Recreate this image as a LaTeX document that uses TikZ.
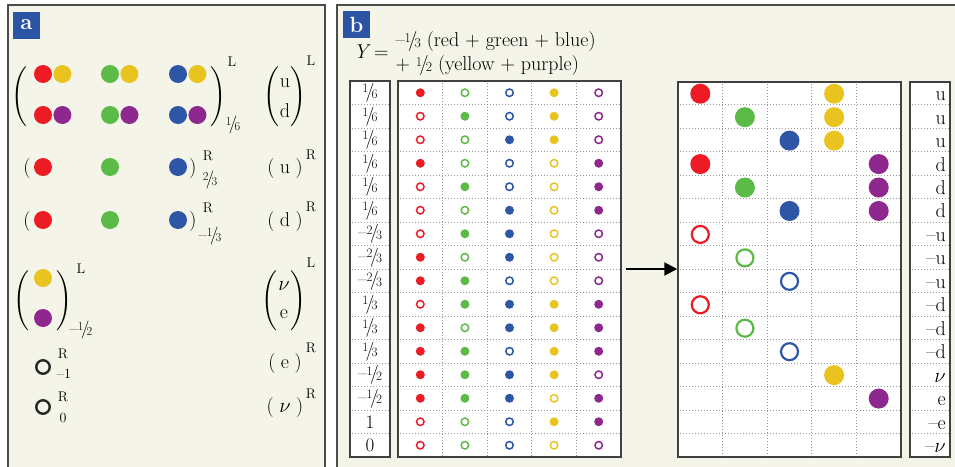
\documentclass[tikz,border=0pt]{standalone}
\usepackage{amsmath,amssymb}
\usepackage{graphicx}
\usepackage{xcolor}
\usepackage{tikz}
\usetikzlibrary{arrows.meta, positioning}

\definecolor{qred}{RGB}{237,28,36}
\definecolor{qgreen}{RGB}{92,186,71}
\definecolor{qblue}{RGB}{46,86,166}
\definecolor{qyellow}{RGB}{233,195,30}
\definecolor{qpurple}{RGB}{142,40,142}
\definecolor{panelbg}{RGB}{245,244,233}
\definecolor{tagblue}{RGB}{44,84,164}
\colorlet{c1}{qred}
\colorlet{c2}{qgreen}
\colorlet{c3}{qblue}
\colorlet{c4}{qyellow}
\colorlet{c5}{qpurple}

\newcommand{\slfrac}[2]{\raisebox{0.55ex}{\scalebox{0.68}{#1}}\kern-0.14em/\kern-0.14em\raisebox{-0.1ex}{\scalebox{0.68}{#2}}}
\newcommand{\openpar}[1]{\ensuremath{\left(\vcenter{\hbox{\rule{0pt}{#1pt}}}\right.}}
\newcommand{\closepar}[1]{\ensuremath{\left.\vcenter{\hbox{\rule{0pt}{#1pt}}}\right)}}

\tikzstyle{panel} = [fill=panelbg]
\tikzstyle{frame} = [draw=black!70, line width=1.5pt]
\tikzstyle{tag} = [rectangle, fill=tagblue, text=white,
minimum size=27pt, inner sep=0pt,
font=\fontsize{22}{22}\selectfont\bfseries]
\tikzstyle{ball} = [circle, inner sep=0pt, minimum size=18pt, fill]
\tikzstyle{ring} = [circle, inner sep=0pt, minimum size=13.5pt,
draw=black!85, line width=2.4pt]
\tikzstyle{idx} = [inner sep=0pt, font=\fontsize{14}{14}\selectfont]
\tikzstyle{idxfrac} = [inner sep=0pt, font=\fontsize{18}{18}\selectfont]
\tikzstyle{charge} = [inner sep=0pt, font=\fontsize{19}{19}\selectfont]
\tikzstyle{table} = [rectangle, draw=black!75, line width=1.5pt,
fill=white, inner sep=0pt]
\tikzstyle{gridline} = [black!40, dotted, line width=1pt]
\tikzstyle{sF} = [circle, inner sep=0pt, minimum size=9pt, fill]
\tikzstyle{sO} = [circle, inner sep=0pt, minimum size=7.5pt, draw, line width=1.5pt]
\tikzstyle{bF} = [circle, inner sep=0pt, minimum size=20pt, fill]
\tikzstyle{bO} = [circle, inner sep=0pt, minimum size=17pt, draw, line width=2.2pt]
\tikzstyle{arrow} = [line width=2pt, -{Triangle[length=13pt, width=13pt]}]

\begin{document}
\begin{tikzpicture}[x=1pt, y=-1pt, font=\fontsize{20}{24}\selectfont]
\useasboundingbox (0,0) rectangle (955,466);

% panel a
\fill[panel] (8,5) rectangle (325,470);
\draw[frame] (8,470) |- (325,5) -- (325,470);
\node[tag] (taga) at (26.5,25) {a};

\foreach \c/\x [count=\k] in {qred/43, qgreen/110, qblue/178} {
  \node[ball, \c] (qL\k) at (\x,74) {};
  \node[ball, qyellow, right=1pt of qL\k] (yL\k) {};
  \node[ball, \c] (qD\k) at (\x,115) {};
  \node[ball, qpurple, right=1pt of qD\k] (pD\k) {};
  \node[ball, \c] (qU\k) at (\x,167) {};
  \node[ball, \c] (qd\k) at (\x,220) {};
}
\node (qpl) at (20,97) {\openpar{62}};
\node (qpr) at (218,97) {\closepar{62}};
\node[idx] (qpL) at (232,62) {L};
\node[idxfrac] (qpY) at (233,125) {\slfrac16};
\node (dpl) at (272,97) {\openpar{62}};
\node (dpr) at (298,97) {\closepar{62}};
\node (uq) at (285,83) {u};
\node (dq) at (285,111) {d};
\node[idx] (dpL) at (311,61) {L};

\node (upl) at (27,169) {(};
\node (upr) at (193,169) {)};
\node[idx] (upR) at (208,156) {R};
\node[idxfrac] (upY) at (210,180) {\slfrac23};
\node (uR) at (285,169) {(\;u\;)};
\node[idx] (uRR) at (311,155) {R};

\node (dnl) at (27,222) {(};
\node (dnr) at (193,222) {)};
\node[idx] (dnR) at (208,208) {R};
\node[idxfrac] (dnY) at (210,236) {--\slfrac13};
\node (dR) at (285,222) {(\;d\;)};
\node[idx] (dRR) at (311,207) {R};

\node[ball, qyellow] (lY) at (43,278) {};
\node[ball, qpurple] (lP) at (43,318) {};
\node (lpl) at (22,301) {\openpar{64}};
\node (lpr) at (64,301) {\closepar{64}};
\node[idx] (lpL) at (81,269) {L};
\node[idxfrac] (lpY) at (81,330) {--\slfrac12};
\node (npl) at (270,301) {\openpar{64}};
\node (npr) at (298,301) {\closepar{64}};
\node (nq) at (284,286) {$\nu$};
\node (eq) at (284,314) {e};
\node[idx] (npL) at (311,263) {L};

\node[ring] (eS) at (43,367) {};
\node[idx] (eSR) at (63,354) {R};
\node[idx] (eSY) at (64,374) {--1};
\node (eR) at (285,364) {(\;e\;)};
\node[idx] (eRR) at (311,348) {R};
\node[ring] (nS) at (43,407) {};
\node[idx] (nSR) at (63,397) {R};
\node[idx] (nSY) at (63,418) {0};
\node (nR) at (285,408) {(\;$\nu$\;)};
\node[idx] (nRR) at (311,394) {R};

% panel b
\fill[panel] (337,5) rectangle (960,470);
\draw[frame] (337,470) |- (960,5);
\node[tag] (tagb) at (356.5,24.5) {b};
\node[anchor=east] (yeq) at (392,52) {\textit{Y}\,=};
\node[anchor=west] (yl1) at (392,42) {--\slfrac13 (red + green + blue)};
\node[anchor=west] (yl2) at (392,66) {+ \slfrac12 (yellow + purple)};

\node[table, minimum width=40pt, minimum height=376pt] (ytab) at (370,269) {};
\node[table, minimum width=223pt, minimum height=376pt] (midtab) at (509.5,269) {};
\node[table, minimum width=223pt, minimum height=375pt] (righttab) at (789.5,269.5) {};
\node[table, minimum width=40pt, minimum height=375pt] (nametab) at (930,269.5) {};

\foreach \i in {1,...,15} {
  \draw[gridline] (352,{81+\i*23.5}) -- (389,{81+\i*23.5});
  \draw[gridline] (400,{81+\i*23.5}) -- (620,{81+\i*23.5});
  \draw[gridline] (680,{81+\i*23.5}) -- (900,{81+\i*23.5});
  \draw[gridline] (912,{81+\i*23.5}) -- (949,{81+\i*23.5});
}
\foreach \j in {1,...,4} {
  \draw[gridline] ({398+\j*44.6},83) -- ({398+\j*44.6},456);
  \draw[gridline] ({678+\j*44.6},84) -- ({678+\j*44.6},456);
}

\foreach \t [count=\i] in {\slfrac16,\slfrac16,\slfrac16,\slfrac16,\slfrac16,\slfrac16,
  --\slfrac23,--\slfrac23,--\slfrac23,\slfrac13,\slfrac13,\slfrac13,
  --\slfrac12,--\slfrac12,1,0}
  \node[charge] (y\i) at (370,{81+(\i-0.5)*23.5}) {\t};

\foreach \pat [count=\i] in {{F,O,O,F,O},{O,F,O,F,O},{O,O,F,F,O},
  {F,O,O,O,F},{O,F,O,O,F},{O,O,F,O,F},{O,F,F,O,O},{F,O,F,O,O},{F,F,O,O,O},
  {O,F,F,F,F},{F,O,F,F,F},{F,F,O,F,F},{F,F,F,F,O},{F,F,F,O,F},
  {O,O,O,F,F},{O,O,O,O,O}}
  \foreach \f [count=\j] in \pat
    \node[s\f, color=c\j] (m\i-\j) at ({398+(\j-0.5)*44.6},{81+(\i-0.5)*23.5}) {};

\foreach \i/\j/\f in {1/1/F,1/4/F,2/2/F,2/4/F,3/3/F,3/4/F,4/1/F,4/5/F,
  5/2/F,5/5/F,6/3/F,6/5/F,7/1/O,8/2/O,9/3/O,10/1/O,11/2/O,12/3/O,13/4/F,14/5/F}
  \node[b\f, color=c\j] (r\i-\j) at ({678+(\j-0.5)*44.6},{82+(\i-0.5)*23.45}) {};

\foreach \t [count=\i] in {u,u,u,d,d,d,--u,--u,--u,--d,--d,--d,$\nu$,e,--e,--$\nu$}
  \node[anchor=base east, inner sep=0pt] (n\i) at (946,{82+(\i-0.5)*23.45+7}) {\t};

\draw[arrow, shorten <=4pt] (midtab.east) -- (righttab.west |- midtab.east);

\end{tikzpicture}
\end{document}
